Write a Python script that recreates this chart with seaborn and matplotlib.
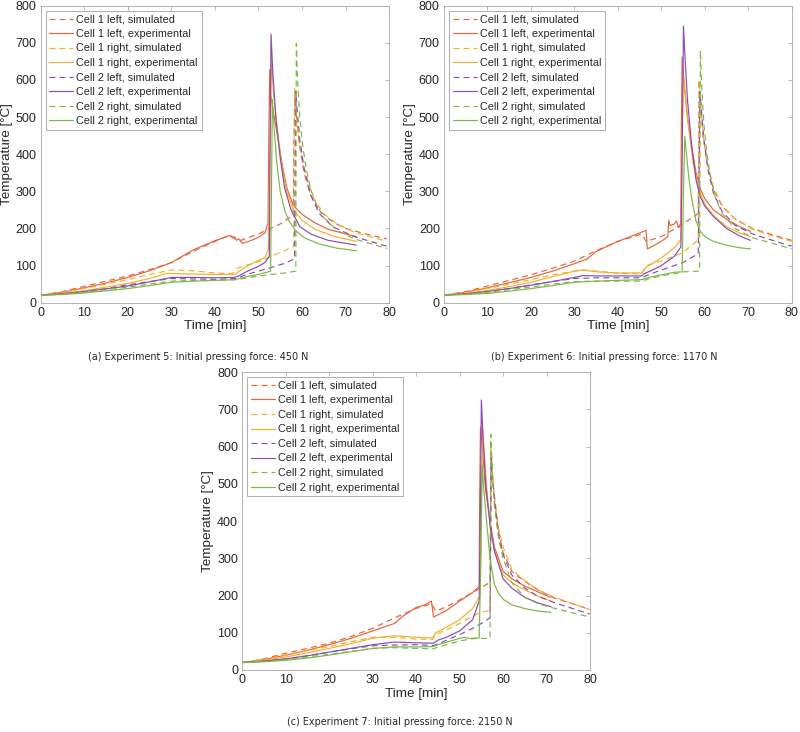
import matplotlib
matplotlib.use("Agg")
import matplotlib.pyplot as plt
import numpy as np
import pandas as pd
import seaborn as sns

sns.set_theme(style="white")
plt.rcParams["font.family"] = ["Liberation Sans", "DejaVu Sans"]

# series labels (legend order) and colours
labels = [
    "Cell 1 left, simulated", "Cell 1 left, experimental",
    "Cell 1 right, simulated", "Cell 1 right, experimental",
    "Cell 2 left, simulated", "Cell 2 left, experimental",
    "Cell 2 right, simulated", "Cell 2 right, experimental",
]
colors = ["#EA6338", "#EA6338", "#F5AE28", "#F5AE28",
          "#8C4AB5", "#8C4AB5", "#7AB846", "#7AB846"]

captions = [
    "(a) Experiment 5: Initial pressing force: 450 N",
    "(b) Experiment 6: Initial pressing force: 1170 N",
    "(c) Experiment 7: Initial pressing force: 2150 N",
]

# ---- Experiment 5 (time [min], temperature [°C]) ----
a_c1l_sim = [(0, 20), (5, 30), (10, 44), (15, 58), (20, 72), (25, 89), (30, 108), (35, 138), (40, 165),
             (43.5, 182), (44.5, 172), (46, 168), (50, 185), (55, 212), (58, 236), (58.2, 470), (58.4, 560),
             (58.8, 490), (59.5, 420), (60.5, 350), (62, 290), (64, 248), (67, 218), (70, 200), (75, 184),
             (79.5, 172)]
a_c1l_exp = [(0, 20), (5, 28), (10, 40), (15, 53), (20, 68), (25, 86), (30, 108), (35, 142), (40, 167),
             (43.5, 181), (44, 175), (44.5, 178), (45, 168), (45.5, 172), (46.3, 160), (48, 166), (50, 176),
             (51.5, 188), (52.2, 215), (52.4, 450), (52.6, 628), (52.8, 560), (53.5, 510), (54.5, 440),
             (55.5, 370), (56.5, 310), (58, 262), (60, 238), (63, 215), (66, 198), (70, 185), (72.5, 178)]
a_c1r_sim = [(0, 20), (5, 28), (10, 38), (15, 50), (20, 62), (25, 76), (30, 88), (35, 86), (40, 80),
             (44, 78), (45, 92), (47, 100), (50, 110), (53, 125), (56, 140), (58.1, 152), (58.3, 580),
             (58.6, 520), (59.3, 440), (60.2, 380), (61.5, 320), (63, 275), (65, 240), (68, 212), (72, 190),
             (79.5, 165)]
a_c1r_exp = [(0, 20), (5, 25), (10, 32), (15, 42), (20, 52), (25, 65), (29, 79), (32, 78), (36, 77),
             (40, 76), (44.5, 76), (45.5, 84), (46.5, 92), (48, 102), (50, 114), (51.5, 122), (52.3, 145),
             (52.6, 400), (53, 651), (53.5, 560), (54.5, 450), (55.5, 360), (56.5, 300), (58, 250), (60, 222),
             (63, 198), (67, 180), (72.5, 165)]
a_c2l_sim = [(0, 20), (5, 24), (10, 30), (15, 38), (20, 48), (25, 57), (30, 65), (35, 64), (40, 63),
             (45, 65), (47, 75), (50, 85), (53, 95), (56, 106), (58.3, 118), (58.6, 570), (58.9, 520),
             (59.5, 440), (60.5, 360), (62, 290), (64, 240), (67, 205), (72, 178), (79.5, 152)]
a_c2l_exp = [(0, 20), (5, 24), (10, 30), (15, 37), (20, 45), (25, 56), (30, 68), (35, 68), (40, 67),
             (44.5, 68), (45.5, 72), (47, 82), (50, 98), (51.5, 108), (52.5, 125), (52.7, 450), (52.9, 723),
             (53.3, 620), (54, 500), (55, 390), (56, 310), (57.5, 250), (59.5, 205), (62, 185), (66, 168),
             (72.5, 155)]
a_c2r_sim = [(0, 20), (5, 23), (10, 28), (15, 35), (20, 42), (25, 50), (30, 58), (35, 60), (40, 60),
             (45, 62), (47, 66), (50, 72), (53, 76), (56, 80), (58.6, 85), (58.7, 698), (59.0, 600),
             (59.5, 500), (60.2, 420), (61, 360), (62, 305), (63.5, 260), (65, 230), (68, 195), (72, 172),
             (79.5, 146)]
a_c2r_exp = [(0, 20), (5, 22), (10, 26), (15, 32), (20, 38), (25, 46), (30, 55), (35, 58), (40, 60),
             (44.5, 62), (46, 66), (48, 72), (50, 76), (52.8, 85), (53.0, 300), (53.2, 548), (53.6, 470),
             (54.2, 380), (55, 300), (56, 250), (57, 220), (58.5, 195), (60.5, 175), (64, 158), (68, 147),
             (72.5, 140)]

# ---- Experiment 6 ----
b_c1l_sim = [(0, 20), (5, 30), (10, 45), (15, 60), (20, 75), (25, 93), (30, 112), (35, 140), (40, 165),
             (45.5, 185), (46.5, 165), (50, 178), (54, 205), (58.5, 240), (58.7, 600), (59, 540), (59.6, 450),
             (60.5, 380), (62, 305), (64, 260), (67, 225), (71, 200), (75, 185), (80, 168)]
b_c1l_exp = [(0, 20), (5, 28), (10, 40), (15, 54), (20, 68), (25, 85), (30, 105), (33, 118), (35, 138),
             (40, 165), (44, 183), (46.5, 195), (46.8, 145), (48, 152), (50, 165), (51.5, 178), (51.7, 222),
             (52, 208), (53, 212), (53.5, 220), (54, 202), (54.5, 215), (54.6, 450), (54.8, 662), (55.2, 600),
             (56, 500), (57, 420), (58, 350), (59, 305), (60, 280), (62, 250), (65, 225), (68, 205),
             (70.5, 192)]
b_c1r_sim = [(0, 20), (5, 28), (10, 38), (15, 50), (20, 62), (25, 75), (30, 85), (32, 88), (36, 84),
             (40, 80), (45.5, 78), (46.5, 100), (50, 112), (55, 135), (58.5, 170), (58.7, 600), (59, 540),
             (59.6, 450), (60.5, 380), (62, 310), (64, 262), (67, 225), (71, 198), (75, 182), (80, 165)]
b_c1r_exp = [(0, 20), (5, 25), (10, 33), (15, 43), (20, 55), (25, 70), (30, 85), (32, 88), (35, 83),
             (40, 80), (45.5, 80), (46.5, 96), (48, 106), (50, 120), (53, 148), (54.5, 170), (54.8, 400),
             (55, 618), (55.5, 560), (56.3, 470), (57.3, 380), (58.5, 310), (60, 265), (62, 235), (65, 205),
             (68, 188), (70.5, 178)]
b_c2l_sim = [(0, 20), (5, 24), (10, 30), (15, 38), (20, 48), (25, 57), (30, 65), (35, 67), (40, 67),
             (45.5, 67), (47, 75), (50, 88), (55, 108), (58.5, 132), (58.9, 570), (59.2, 520), (59.8, 440),
             (60.7, 360), (62, 295), (64, 245), (67, 208), (71, 185), (75, 170), (80, 152)]
b_c2l_exp = [(0, 20), (5, 24), (10, 30), (15, 38), (20, 47), (25, 57), (30, 68), (32, 73), (36, 72),
             (40, 72), (45.5, 72), (46, 78), (48, 88), (50, 100), (53, 125), (54.5, 150), (54.8, 400),
             (55.1, 745), (55.5, 650), (56, 550), (57, 420), (58, 330), (59, 285), (60, 260), (62, 232),
             (65, 200), (68, 180), (70.5, 168)]
b_c2r_sim = [(0, 20), (5, 23), (10, 28), (15, 35), (20, 42), (25, 50), (30, 57), (35, 58), (40, 58),
             (45.5, 58), (47, 64), (50, 72), (53, 78), (55, 83), (58.8, 85), (59, 679), (59.3, 580),
             (59.8, 480), (60.5, 400), (61.3, 340), (62.5, 280), (64, 240), (67, 200), (71, 175), (75, 162),
             (80, 145)]
b_c2r_exp = [(0, 20), (5, 22), (10, 25), (15, 31), (20, 38), (25, 46), (30, 55), (35, 58), (40, 60),
             (45.5, 62), (47, 68), (50, 75), (53, 82), (54.8, 83), (55.1, 300), (55.4, 448), (55.8, 400),
             (56.3, 340), (57, 280), (58, 220), (59, 192), (60, 178), (62, 165), (65, 155), (68, 148),
             (70.5, 145)]

# ---- Experiment 7 ----
c_c1l_sim = [(0, 20), (5, 30), (10, 45), (15, 58), (20, 72), (25, 90), (30, 112), (35, 140), (40, 165),
             (43.5, 178), (44.5, 158), (47, 170), (50, 188), (54, 215), (57, 235), (57.2, 590), (57.5, 530),
             (58, 450), (59, 370), (60, 315), (62, 265), (65, 238), (68, 215), (72, 192), (76, 178), (80, 162)]
c_c1l_exp = [(0, 20), (5, 28), (10, 40), (15, 53), (20, 68), (25, 85), (30, 105), (35, 125), (37, 145),
             (40, 168), (42, 175), (43.5, 185), (44, 142), (45, 148), (47, 160), (50, 185), (53, 208),
             (54.5, 225), (54.6, 450), (54.8, 652), (55.2, 600), (56, 480), (57, 400), (58, 330), (60, 265),
             (62, 245), (65, 225), (68, 210), (71, 195)]
c_c1r_sim = [(0, 20), (5, 28), (10, 40), (15, 52), (20, 63), (25, 76), (30, 88), (35, 88), (40, 83),
             (43.8, 82), (44.5, 95), (47, 108), (50, 125), (53, 145), (55, 155), (57, 160), (57.2, 600),
             (57.5, 540), (58, 470), (59, 380), (60, 330), (62, 270), (65, 240), (68, 215), (72, 195),
             (76, 178), (80, 162)]
c_c1r_exp = [(0, 20), (5, 26), (10, 35), (15, 46), (20, 58), (25, 71), (30, 85), (35, 92), (40, 88),
             (43.8, 86), (44.5, 100), (47, 115), (50, 135), (53, 165), (54.7, 200), (55, 450), (55.3, 648),
             (55.7, 580), (56.3, 480), (57, 390), (58, 320), (60, 255), (62, 235), (65, 215), (68, 198),
             (71, 185)]
c_c2l_sim = [(0, 20), (5, 24), (10, 30), (15, 38), (20, 48), (25, 57), (30, 65), (35, 67), (40, 68),
             (44, 66), (45, 70), (47, 80), (50, 95), (53, 112), (55, 125), (57, 140), (57.3, 570), (57.6, 510),
             (58.2, 440), (59, 360), (60, 310), (62, 255), (65, 220), (68, 198), (72, 180), (80, 150)]
c_c2l_exp = [(0, 20), (5, 24), (10, 30), (15, 38), (20, 48), (25, 58), (30, 68), (35, 75), (40, 73),
             (44, 72), (45, 80), (47, 88), (50, 105), (53, 135), (54.5, 185), (54.8, 450), (55, 725),
             (55.4, 620), (56, 500), (57, 390), (58, 320), (60, 245), (62, 220), (65, 195), (68, 180),
             (71, 170)]
c_c2r_sim = [(0, 20), (5, 23), (10, 28), (15, 35), (20, 42), (25, 50), (30, 58), (35, 60), (40, 58),
             (44, 57), (45, 62), (47, 68), (50, 78), (53, 84), (55, 85), (57, 85), (57.2, 632), (57.5, 540),
             (58, 440), (59, 350), (60, 300), (62, 235), (65, 195), (68, 178), (72, 165), (80, 142)]
c_c2r_exp = [(0, 20), (5, 22), (10, 26), (15, 32), (20, 40), (25, 49), (30, 58), (35, 62), (40, 62),
             (44, 63), (45, 68), (48, 78), (50, 85), (51, 88), (52, 85), (54.5, 86), (54.9, 300), (55.2, 550),
             (55.6, 480), (56.2, 400), (57, 300), (58, 230), (59, 205), (60, 190), (62, 175), (65, 165),
             (68, 158), (71, 155)]

panels = [
    [a_c1l_sim, a_c1l_exp, a_c1r_sim, a_c1r_exp, a_c2l_sim, a_c2l_exp, a_c2r_sim, a_c2r_exp],
    [b_c1l_sim, b_c1l_exp, b_c1r_sim, b_c1r_exp, b_c2l_sim, b_c2l_exp, b_c2r_sim, b_c2r_exp],
    [c_c1l_sim, c_c1l_exp, c_c1r_sim, c_c1r_exp, c_c2l_sim, c_c2l_exp, c_c2r_sim, c_c2r_exp],
]

# axes boxes in figure fraction [left, bottom, width, height]
boxes = [[0.0509, 0.5865, 0.4354, 0.4057],
         [0.5550, 0.5865, 0.4346, 0.4057],
         [0.3029, 0.0847, 0.4346, 0.4071]]
cap_pos = [(0.2475, 0.5123), (0.755, 0.5123), (0.5, 0.0137)]

fig = plt.figure(figsize=(8, 7.32), dpi=100)

for k, series in enumerate(panels):
    ax = fig.add_axes(boxes[k])
    for i, pts in enumerate(series):
        df = pd.DataFrame(pts, columns=["time", "temp"])
        ls = (0, (5, 3.5)) if i % 2 == 0 else "-"
        sns.lineplot(data=df, x="time", y="temp", ax=ax, color=colors[i], linestyle=ls,
                     lw=0.85, label=labels[i], estimator=None, sort=False)
    ax.set_xlim(0, 80)
    ax.set_ylim(0, 800)
    ax.set_xticks(np.arange(0, 81, 10))
    ax.set_yticks(np.arange(0, 801, 100))
    ax.tick_params(direction="in", length=3, width=0.5, colors="#A0A0A0",
                   labelcolor="#262626", labelsize=9, pad=3,
                   top=True, right=True)
    for sp in ax.spines.values():
        sp.set_color("#A8A8A8")
        sp.set_linewidth(0.6)
    ax.set_xlabel("Time [min]", fontsize=9.7, color="#262626", labelpad=1)
    ax.set_ylabel("Temperature [°C]", fontsize=9.7, color="#262626", labelpad=2)
    leg = ax.legend(loc="upper left", fontsize=7.8, frameon=True, fancybox=False,
                    framealpha=1, edgecolor="#A0A0A0", borderaxespad=0.45,
                    handlelength=2.2, handletextpad=0.3, labelspacing=0.42, borderpad=0.35)
    leg.get_frame().set_linewidth(0.6)
    fig.text(cap_pos[k][0], cap_pos[k][1], captions[k], ha="center", va="center",
             fontsize=6.9, color="#262626", family=["DejaVu Sans"])

fig.savefig("out.png", dpi=100)
